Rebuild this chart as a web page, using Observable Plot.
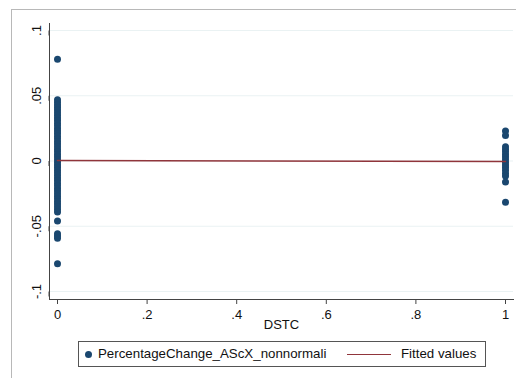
<!DOCTYPE html>
<html><head><meta charset="utf-8">
<script src="https://cdn.jsdelivr.net/npm/d3@7"></script>
<script src="https://cdn.jsdelivr.net/npm/@observablehq/plot@0.6"></script>
<style>
body{margin:0;background:#fff;font-family:"Liberation Sans",Arial,sans-serif;}
#wrap{position:relative;width:516px;height:378px;overflow:hidden;background:#fff;}
#border{position:absolute;left:11px;top:9px;width:600px;height:500px;border-left:1px solid #b8b8b8;border-top:1px solid #b8b8b8;}
#chart{position:absolute;left:0;top:0;}
#legend{position:absolute;left:78px;top:341px;width:406px;height:24px;border:1px solid #555;background:#fff;font-size:13.3px;color:#111;}
#legend .dot{position:absolute;left:6px;top:9px;width:7px;height:7px;border-radius:50%;background:#1a476f;}
#legend .t1{position:absolute;left:19px;top:4px;}
#legend .ln{position:absolute;left:268px;top:12px;width:44px;height:0;border-top:1.5px solid #90353b;}
#legend .t2{position:absolute;left:322px;top:4px;}
</style>
</head><body>
<div id="wrap"><div id="border"></div><div id="chart"></div>
<div id="legend"><span class="dot"></span><span class="t1">PercentageChange_AScX_nonnormali</span><span class="ln"></span><span class="t2">Fitted values</span></div>
</div>
<script>
// Scatter points at DSTC = 0
const y0vals = [0.078, 0.047, 0.045, 0.043, 0.041, 0.039, 0.037, 0.035, 0.033, 0.031, 0.029, 0.027, 0.025, 0.023, 0.021, 0.019, 0.017, 0.015, 0.013, 0.011, 0.009, 0.007, 0.005, 0.003, 0.001, -0.001, -0.003, -0.005, -0.007, -0.009, -0.011, -0.013, -0.015, -0.017, -0.019, -0.021, -0.023, -0.025, -0.027, -0.029, -0.031, -0.033, -0.035, -0.037, -0.039, -0.046, -0.0558, -0.0575, -0.0592, -0.0787];
// Scatter points at DSTC = 1
const y1vals = [0.023, 0.0195, 0.011, 0.009, 0.007, 0.005, 0.003, 0.001, -0.001, -0.003, -0.005, -0.007, -0.0093, -0.0115, -0.016, -0.0317];
// Fitted line endpoints
const fitX = [0, 1];
const fitY = [0.0003, -0.0004];
// Ticks
const yTicks = [-0.1, -0.05, 0, 0.05, 0.1];
const yTickLabels = ["-.1", "-.05", "0", ".05", ".1"];
const xTicks = [0, 0.2, 0.4, 0.6, 0.8, 1];
const xTickLabels = ["0", ".2", ".4", ".6", ".8", "1"];
const xTitle = "DSTC";

const points = [
  ...y0vals.map(v => ({x: 0, y: v})),
  ...y1vals.map(v => ({x: 1, y: v}))
];
const fit = fitX.map((x, i) => ({x, y: fitY[i]}));

const plot = Plot.plot({
  width: 516, height: 335,
  marginLeft: 49, marginRight: 3, marginTop: 23, marginBottom: 36,
  x: {domain: [0, 1], insetLeft: 8, insetRight: 8},
  y: {domain: [-0.1, 0.1], insetTop: 7, insetBottom: 8},
  style: {fontFamily: '"Liberation Sans", Arial, sans-serif', fontSize: "13px", color: "#111", background: "transparent"},
  marks: [
    Plot.gridY(yTicks, {stroke: "#eaf2f3", strokeOpacity: 1, strokeWidth: 1.2}),
    Plot.axisY({ticks: yTicks, tickFormat: d => yTickLabels[yTicks.indexOf(d)], tickSize: 5, tickPadding: 8, rotate: -90, textAnchor: "middle", label: null, stroke: "#444", fill: "#111", fontSize: 13}),
    Plot.axisX({ticks: xTicks, tickFormat: d => xTickLabels[xTicks.indexOf(d)], tickSize: 5, tickPadding: 5, label: null, stroke: "#444", fill: "#111", fontSize: 13}),
    Plot.frame({anchor: "left", stroke: "#444"}),
    Plot.frame({anchor: "bottom", stroke: "#444"}),
    Plot.text([xTitle], {x: 0.5, frameAnchor: "bottom", dy: 29, text: d => d, fontSize: 13, fill: "#111"}),
    Plot.dot(points, {x: "x", y: "y", r: 3.5, fill: "#1a476f", stroke: "none"}),
    Plot.line(fit, {x: "x", y: "y", stroke: "#90353b", strokeWidth: 1.5})
  ]
});
document.getElementById("chart").appendChild(plot);
</script>
</body></html>
